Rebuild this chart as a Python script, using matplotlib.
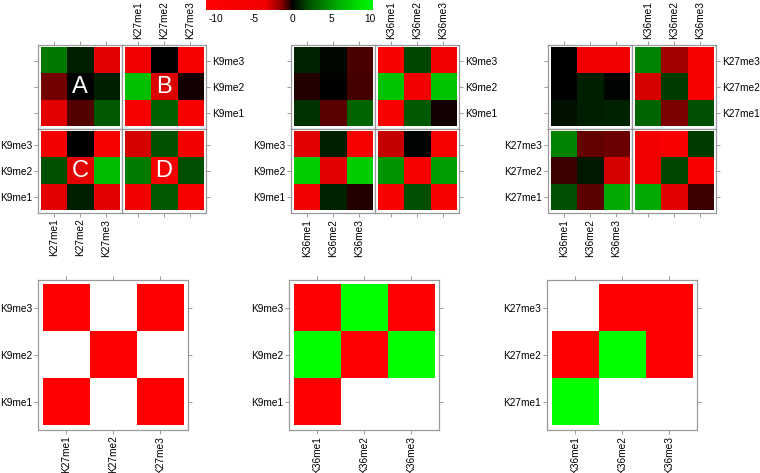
import numpy as np
import matplotlib
matplotlib.use("Agg")
import matplotlib.pyplot as plt
from matplotlib.colors import LinearSegmentedColormap, ListedColormap, Normalize
from matplotlib.cm import ScalarMappable

plt.rcParams['font.family'] = ['Liberation Sans', 'DejaVu Sans']
plt.rcParams['axes.unicode_minus'] = False

# labels
k9_marks = ['K9me1', 'K9me2', 'K9me3']
k27_marks = ['K27me1', 'K27me2', 'K27me3']
k36_marks = ['K36me1', 'K36me2', 'K36me3']
quad_letters = ['A', 'B', 'C', 'D']

# scores, rows are me3, me2, me1 (top to bottom), columns me1, me2, me3
k9_k27_A = [[3.7, 0.8, -3.2], [-1.2, 0.0, 0.8], [-3.2, -0.9, 2.5]]
k9_k27_B = [[-5.0, -0.05, -7.0], [7.0, -3.0, -0.2], [-7.0, 2.8, -7.0]]
k9_k27_C = [[-4.0, 0.05, -7.0], [2.2, -3.2, 6.8], [-3.2, 0.8, -3.2]]
k9_k27_D = [[-2.9, 2.2, -4.0], [3.9, -5.0, 2.1], [-5.0, 2.5, -7.0]]

k9_k36_A = [[0.9, 0.2, -0.8], [-0.4, -0.05, -0.7], [1.3, -0.95, 2.9]]
k9_k36_B = [[-7.0, 1.8, -5.0], [7.2, -3.8, 7.2], [-7.0, 2.5, -0.25]]
k9_k36_C = [[-3.2, 0.8, -7.0], [7.8, -3.2, 7.8], [-3.8, 0.9, -0.35]]
k9_k36_D = [[-2.6, 0.1, -7.0], [4.8, -8.0, 5.2], [-7.0, 2.1, -7.0]]

k27_k36_A = [[0.0, -3.8, -3.8], [0.0, 0.8, 0.1], [0.5, 0.8, 0.9]]
k27_k36_B = [[4.1, -1.9, -7.0], [-2.9, 1.6, -8.0], [2.9, -1.3, 2.1]]
k27_k36_C = [[4.1, -1.05, -1.17], [-0.6, 0.65, -2.9], [2.1, -0.95, 5.9]]
k27_k36_D = [[-3.8, -9.0, 1.6], [-3.8, 1.8, -9.0], [5.9, -3.2, -0.6]]

# consensus: 1 = up (green), -1 = down (red), nan = none
k9_k27_sig = [[-1, np.nan, -1], [np.nan, -1, np.nan], [-1, np.nan, -1]]
k9_k36_sig = [[-1, 1, -1], [1, -1, 1], [-1, np.nan, np.nan]]
k27_k36_sig = [[np.nan, -1, -1], [-1, 1, -1], [1, np.nan, np.nan]]

vmin, vmax = -11.3, 10.45
nodes = [(-11.3, (1, 0, 0)), (-3.5, (0.95, 0, 0)), (-1.5, (0.55, 0, 0)),
         (0, (0, 0, 0)), (2, (0, 0.3, 0)), (5, (0, 0.6, 0)),
         (9, (0, 0.9, 0)), (10.45, (0, 0.95, 0))]
cmap = LinearSegmentedColormap.from_list(
    'rbg', [((v - vmin) / (vmax - vmin), c) for v, c in nodes])
norm = Normalize(vmin, vmax)
sig_cmap = ListedColormap([(1, 0, 0), (0, 1, 0)])

W, H = 760, 473
fig = plt.figure(figsize=(7.6, 4.73), dpi=100)
frame = '#9a9a9a'
fs = 7.3


def box(x0, y0, w, h):
    return [x0 / W, 1 - (y0 + h) / H, w / W, h / H]


def setup(ax, xlab, ylab, top, bottom, left, right, ltop, lbottom, lleft, lright):
    ax.set_xlim(-0.6, 2.6)
    ax.set_ylim(-0.6, 2.6)
    ax.set_xticks([0, 1, 2])
    ax.set_xticklabels(xlab)
    ax.set_yticks([0, 1, 2])
    ax.set_yticklabels(ylab)
    ax.tick_params(axis='x', top=top, bottom=bottom, labeltop=ltop,
                   labelbottom=lbottom, labelrotation=90)
    ax.tick_params(axis='y', left=left, right=right, labelleft=lleft,
                   labelright=lright)
    ax.tick_params(direction='out', length=2.6, width=0.7, color=frame,
                   pad=1.5, labelsize=fs)
    for s in ax.spines.values():
        s.set_color(frame)
        s.set_linewidth(0.9)


groups = [
    ([k9_k27_A, k9_k27_B, k9_k27_C, k9_k27_D], k27_marks, k9_marks, 38, True),
    ([k9_k36_A, k9_k36_B, k9_k36_C, k9_k36_D], k36_marks, k9_marks, 291, False),
    ([k27_k36_A, k27_k36_B, k27_k36_C, k27_k36_D], k36_marks, k27_marks, 548, False),
]

for quads, xlab, ylab, x0, show_letters in groups:
    for k, data in enumerate(quads):
        i, j = divmod(k, 2)
        ax = fig.add_axes(box(x0 + 84 * j, 45 + 84 * i, 84, 84))
        ax.imshow(np.array(data), cmap=cmap, norm=norm, origin='upper',
                  extent=(-0.5, 2.5, -0.5, 2.5), aspect='auto',
                  interpolation='nearest')
        setup(ax, xlab, ylab,
              top=(i == 0), bottom=(i == 1), left=(j == 0), right=(j == 1),
              ltop=(i == 0 and j == 1), lbottom=(i == 1 and j == 0),
              lleft=(i == 1 and j == 0), lright=(i == 0 and j == 1))
        if show_letters:
            ax.text(1, 1, quad_letters[k], color='white', fontsize=17,
                    ha='center', va='center')

sig_panels = [(k9_k27_sig, k27_marks, k9_marks, 38),
              (k9_k36_sig, k36_marks, k9_marks, 289),
              (k27_k36_sig, k36_marks, k27_marks, 547)]
for data, xlab, ylab, x0 in sig_panels:
    ax = fig.add_axes(box(x0, 280, 150, 150))
    ax.imshow(np.ma.masked_invalid(np.array(data, dtype=float)), cmap=sig_cmap,
              vmin=-1, vmax=1, origin='upper', extent=(-0.5, 2.5, -0.5, 2.5),
              aspect='auto', interpolation='nearest')
    setup(ax, xlab, ylab, True, True, True, True, False, True, True, False)

cax = fig.add_axes(box(206, 0, 167, 10))
cb = fig.colorbar(ScalarMappable(norm=norm, cmap=cmap), cax=cax,
                  orientation='horizontal')
cb.outline.set_visible(False)
cb.set_ticks([-10, -5, 0, 5, 10])
cax.tick_params(length=0, labelsize=fs, pad=3)

fig.savefig('out.png', dpi=100)
